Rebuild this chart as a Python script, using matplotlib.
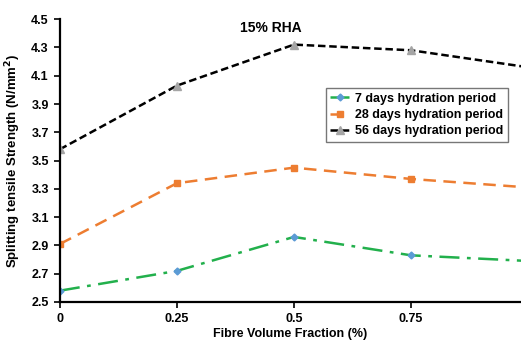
import matplotlib
matplotlib.use("Agg")
import matplotlib.pyplot as plt

plt.rcParams['font.family'] = ['Liberation Sans', 'DejaVu Sans']
plt.rcParams['font.weight'] = 'bold'

fibre = [0, 0.25, 0.5, 0.75, 1.0]
days7 = [2.58, 2.72, 2.96, 2.83, 2.79]
days28 = [2.91, 3.34, 3.45, 3.37, 3.31]
days56 = [3.58, 4.03, 4.32, 4.28, 4.16]
xticks = [0, 0.25, 0.5, 0.75]
yticks = [2.5, 2.7, 2.9, 3.1, 3.3, 3.5, 3.7, 3.9, 4.1, 4.3, 4.5]

fig = plt.figure(figsize=(5.21, 3.42), dpi=100)
ax = fig.add_axes([0.115, 0.117, 0.885, 0.827])

ax.plot(fibre, days7, color='#22b04c', lw=1.8, ls=(0, (8, 3, 1.5, 3)),
        marker='D', ms=3.5, mfc='#5b9bd5', mec='#5b9bd5',
        label='7 days hydration period')
ax.plot(fibre, days28, color='#ed7d31', lw=1.8, ls=(0, (5, 3)),
        marker='s', ms=5, mfc='#ed7d31', mec='#ed7d31',
        label='28 days hydration period')
ax.plot(fibre, days56, color='black', lw=1.8, ls=(0, (3, 1.5)),
        marker='^', ms=5.5, mfc='#a5a5a5', mec='#a5a5a5',
        label='56 days hydration period')

ax.set_xlim(0, 0.985)
ax.set_ylim(2.5, 4.5)
ax.set_xticks(xticks)
ax.set_xticklabels(['0', '0.25', '0.5', '0.75'])
ax.set_yticks(yticks)
ax.tick_params(labelsize=9, width=1.2, length=4, pad=4)
for s in ['top', 'right']:
    ax.spines[s].set_visible(False)
for s in ['left', 'bottom']:
    ax.spines[s].set_linewidth(1.6)

ax.set_xlabel('Fibre Volume Fraction (%)', fontsize=9, fontweight='bold', labelpad=2)
ax.set_ylabel('Splitting tensile Strength (N/mm$^\\mathbf{2}$)', fontsize=9.5, fontweight='bold', labelpad=6)
ax.text(0.451, 4.436, '15% RHA', fontsize=10, fontweight='bold', ha='center', va='center')

leg = ax.legend(loc='upper left', bbox_to_anchor=(0.577, 0.756), fontsize=9.0,
                frameon=True, fancybox=False, edgecolor='#555555',
                handlelength=1.5, handletextpad=0.5, borderpad=0.35, labelspacing=0.35,
                borderaxespad=0)
leg.get_frame().set_linewidth(1.0)

fig.savefig('out.png', dpi=100)
